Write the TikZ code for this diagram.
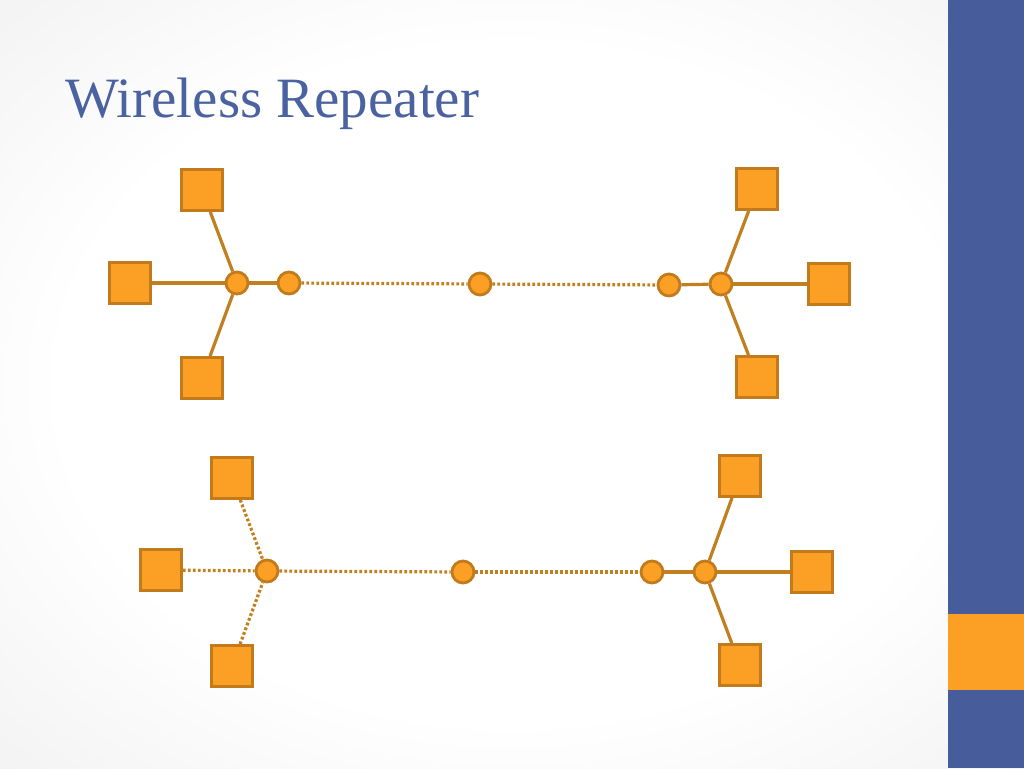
\documentclass[tikz,border=0pt]{standalone}
\usepackage{fontspec}
\setmainfont{Liberation Serif}
\definecolor{orfill}{HTML}{FBA024}
\definecolor{ordraw}{HTML}{C27B1C}
\definecolor{linec}{HTML}{C0801F}
\definecolor{barblue}{HTML}{475D9B}
\definecolor{titleblue}{HTML}{4A62A0}
\pgfdeclareradialshading{bgshade}{\pgfpoint{0bp}{0bp}}{color(0bp)=(white); color(22bp)=(white); color(42bp)=(black!7); color(62bp)=(black!13); color(75bp)=(black!14)}
\tikzset{
  dev/.style={rectangle, draw=ordraw, fill=orfill, line width=2.8pt, minimum size=41pt, inner sep=0pt},
  hub/.style={circle, draw=ordraw, fill=orfill, line width=2.8pt, minimum size=22pt, inner sep=0pt},
  wire/.style={draw=linec, line width=3.2pt},
  air/.style={draw=linec, line width=3.2pt, dash pattern=on 2.8pt off 2.2pt},
}
\begin{document}
\begin{tikzpicture}[x=1pt,y=-1pt]
\useasboundingbox (0,0) rectangle (1024,768);
\shade[shading=bgshade] (0,0) rectangle (1024,768);
\fill[barblue] (948,0) rectangle (1024,768);
\fill[orfill] (948,614) rectangle (1024,690);
\node[anchor=base west, text=titleblue, font=\fontsize{57}{68}\selectfont, inner sep=0pt] (title) at (65,117) {Wireless Repeater};

% top network
\node[dev] (a1) at (202,190) {};
\node[dev] (a2) at (130,283) {};
\node[dev] (a3) at (202,378) {};
\node[hub] (ah) at (237,283) {};
\node[hub] (ar) at (289,283) {};
\node[hub] (am) at (480,284) {};
\node[hub] (br) at (669,285) {};
\node[hub] (bh) at (721,284) {};
\node[dev] (b1) at (757,189) {};
\node[dev] (b2) at (829,284) {};
\node[dev] (b3) at (757,377) {};
\draw[wire] (a1) -- (ah);
\draw[wire] (a2) -- (ah);
\draw[wire] (a3) -- (ah);
\draw[wire] (ah) -- (ar);
\draw[air] (ar) -- (am);
\draw[air] (am) -- (br);
\draw[wire] (br) -- (bh);
\draw[wire] (bh) -- (b1);
\draw[wire] (bh) -- (b2);
\draw[wire] (bh) -- (b3);

% bottom network
\node[dev] (c1) at (232,478) {};
\node[dev] (c2) at (161,570) {};
\node[dev] (c3) at (232,666) {};
\node[hub] (ch) at (267,571) {};
\node[hub] (cm) at (463,572) {};
\node[hub] (dr) at (652,572) {};
\node[hub] (dh) at (705,572) {};
\node[dev] (d1) at (740,476) {};
\node[dev] (d2) at (812,572) {};
\node[dev] (d3) at (740,665) {};
\draw[air] (c1) -- (ch);
\draw[air] (c2) -- (ch);
\draw[air] (c3) -- (ch);
\draw[air] (ch) -- (cm);
\draw[air] (cm) -- (dr);
\draw[wire] (dr) -- (dh);
\draw[wire] (dh) -- (d1);
\draw[wire] (dh) -- (d2);
\draw[wire] (dh) -- (d3);
\end{tikzpicture}
\end{document}
